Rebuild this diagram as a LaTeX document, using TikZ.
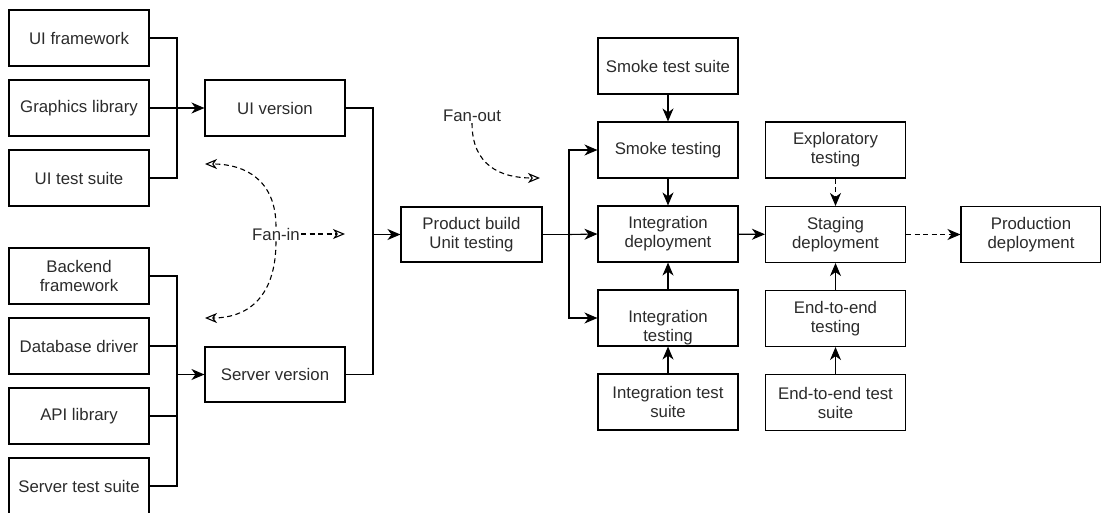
\documentclass[tikz,border=0pt]{standalone}
\usepackage{fontspec}
\setmainfont{Liberation Sans}
\usetikzlibrary{arrows.meta}
\definecolor{txt}{HTML}{2B2B2B}
\begin{document}
\begin{tikzpicture}[x=1pt,y=-1pt,
  box/.style={draw=black, line width=1.1pt, minimum width=140pt, minimum height=56pt, inner sep=0pt, align=center, text=txt, font=\fontsize{16.8}{19}\selectfont},
  lbl/.style={text=txt, inner sep=1pt, font=\fontsize{16.8}{19}\selectfont},
  conn/.style={line width=1.1pt, draw=black},
  arr/.style={conn, -{Stealth[length=13pt,width=11pt,inset=4pt]}},
  darr/.style={arr, dash pattern=on 5pt off 3.5pt},
  oarr/.style={conn, dash pattern=on 5pt off 3.5pt, -{Stealth[open,length=12pt,width=10pt,inset=3.5pt]}},
]
\useasboundingbox (0,0) rectangle (1101,512);
\clip (0,0) rectangle (1101,512);

% left column
\node[box] (uifw) at (79,38) {UI framework};
\node[box] (gfx)  at (79,108) {Graphics library};
\node[box] (uits) at (79,178) {UI test suite};
\node[box] (bef)  at (79,276) {Backend\\framework};
\node[box] (db)   at (79,346) {Database driver};
\node[box] (api)  at (79,416) {API library};
\node[box] (sts)  at (79,486) {Server test suite};

\node[box] (uiv) at (275,108) {UI version};
\node[box, minimum height=55pt] (srv) at (275,374.5) {Server version};

\node[box, minimum width=141pt, minimum height=55pt] (pb) at (471.5,234.5) {Product build\\Unit testing};

\node[box] (ssuite) at (668,66) {Smoke test suite};
\node[box] (smoke)  at (668,150) {Smoke testing};
\node[box] (intdep) at (668,234) {Integration\\deployment};
\node[box, label={[lbl, align=center, anchor=center, yshift=-10pt]center:{Integration\\testing}}] (inttest) at (668,318) {};
\node[box] (isuite) at (668,402) {Integration test\\suite};

\node[box] (explore) at (835.5,150) {Exploratory\\testing};
\node[box] (staging) at (835.5,234.5) {Staging\\deployment};
\node[box] (e2e)     at (835.5,318.5) {End-to-end\\testing};
\node[box] (e2esuite) at (835.5,402.5) {End-to-end test\\suite};

\node[box] (prod) at (1031,234.5) {Production\\deployment};

% labels
\node[lbl] (fanin) at (276,234) {Fan-in};
\node[lbl] (fanout) at (472,116) {Fan-out};

% bus coordinates
\coordinate (busA) at (177,108);
\coordinate (busB) at (177,374.5);
\coordinate (busR) at (373,234.5);
\coordinate (busF) at (569,234.5);
\coordinate (fiU) at (205,164);
\coordinate (fiL) at (205,318);
\coordinate (fiR) at (345,234);
\coordinate (foE) at (540,178);

% UI fan-in
\draw[conn] (uifw.east) -| (busA);
\draw[conn] (uits.east) -| (busA);
\draw[arr] (gfx.east) -- (uiv.west);

% Server fan-in
\draw[conn] (bef.east) -| (busB);
\draw[conn] (db.east) -| (busB);
\draw[conn] (api.east) -| (busB);
\draw[conn] (sts.east) -| (busB);
\draw[arr] (busB) -- (srv.west);

% to product build
\draw[conn] (uiv.east) -| (busR);
\draw[conn] (srv.east) -| (busR);
\draw[arr] (busR) -- (pb.west);

% fan-out
\draw[conn] (pb.east) -- (busF);
\draw[arr] (busF) -- (intdep.west);
\draw[arr] (busF) |- (smoke.west);
\draw[arr] (busF) |- (inttest.west);

% verticals
\draw[arr] (ssuite) -- (smoke);
\draw[arr] (smoke) -- (intdep);
\draw[arr] (inttest) -- (intdep);
\draw[arr] (isuite) -- (inttest);
\draw[arr] (intdep) -- (staging);
\draw[darr] (explore) -- (staging);
\draw[arr] (e2e) -- (staging);
\draw[arr] (e2esuite) -- (e2e);
\draw[darr] (staging) -- (prod);

% annotation curves
\draw[oarr] (fanin.north) .. controls (276,180) and (245,164) .. (fiU);
\draw[oarr] (fanin.south) .. controls (276,300) and (245,318) .. (fiL);
\draw[oarr] (fanin.east) -- (fiR);
\draw[oarr] (fanout.south) .. controls (472,165) and (500,178) .. (foE);
\end{tikzpicture}
\end{document}
